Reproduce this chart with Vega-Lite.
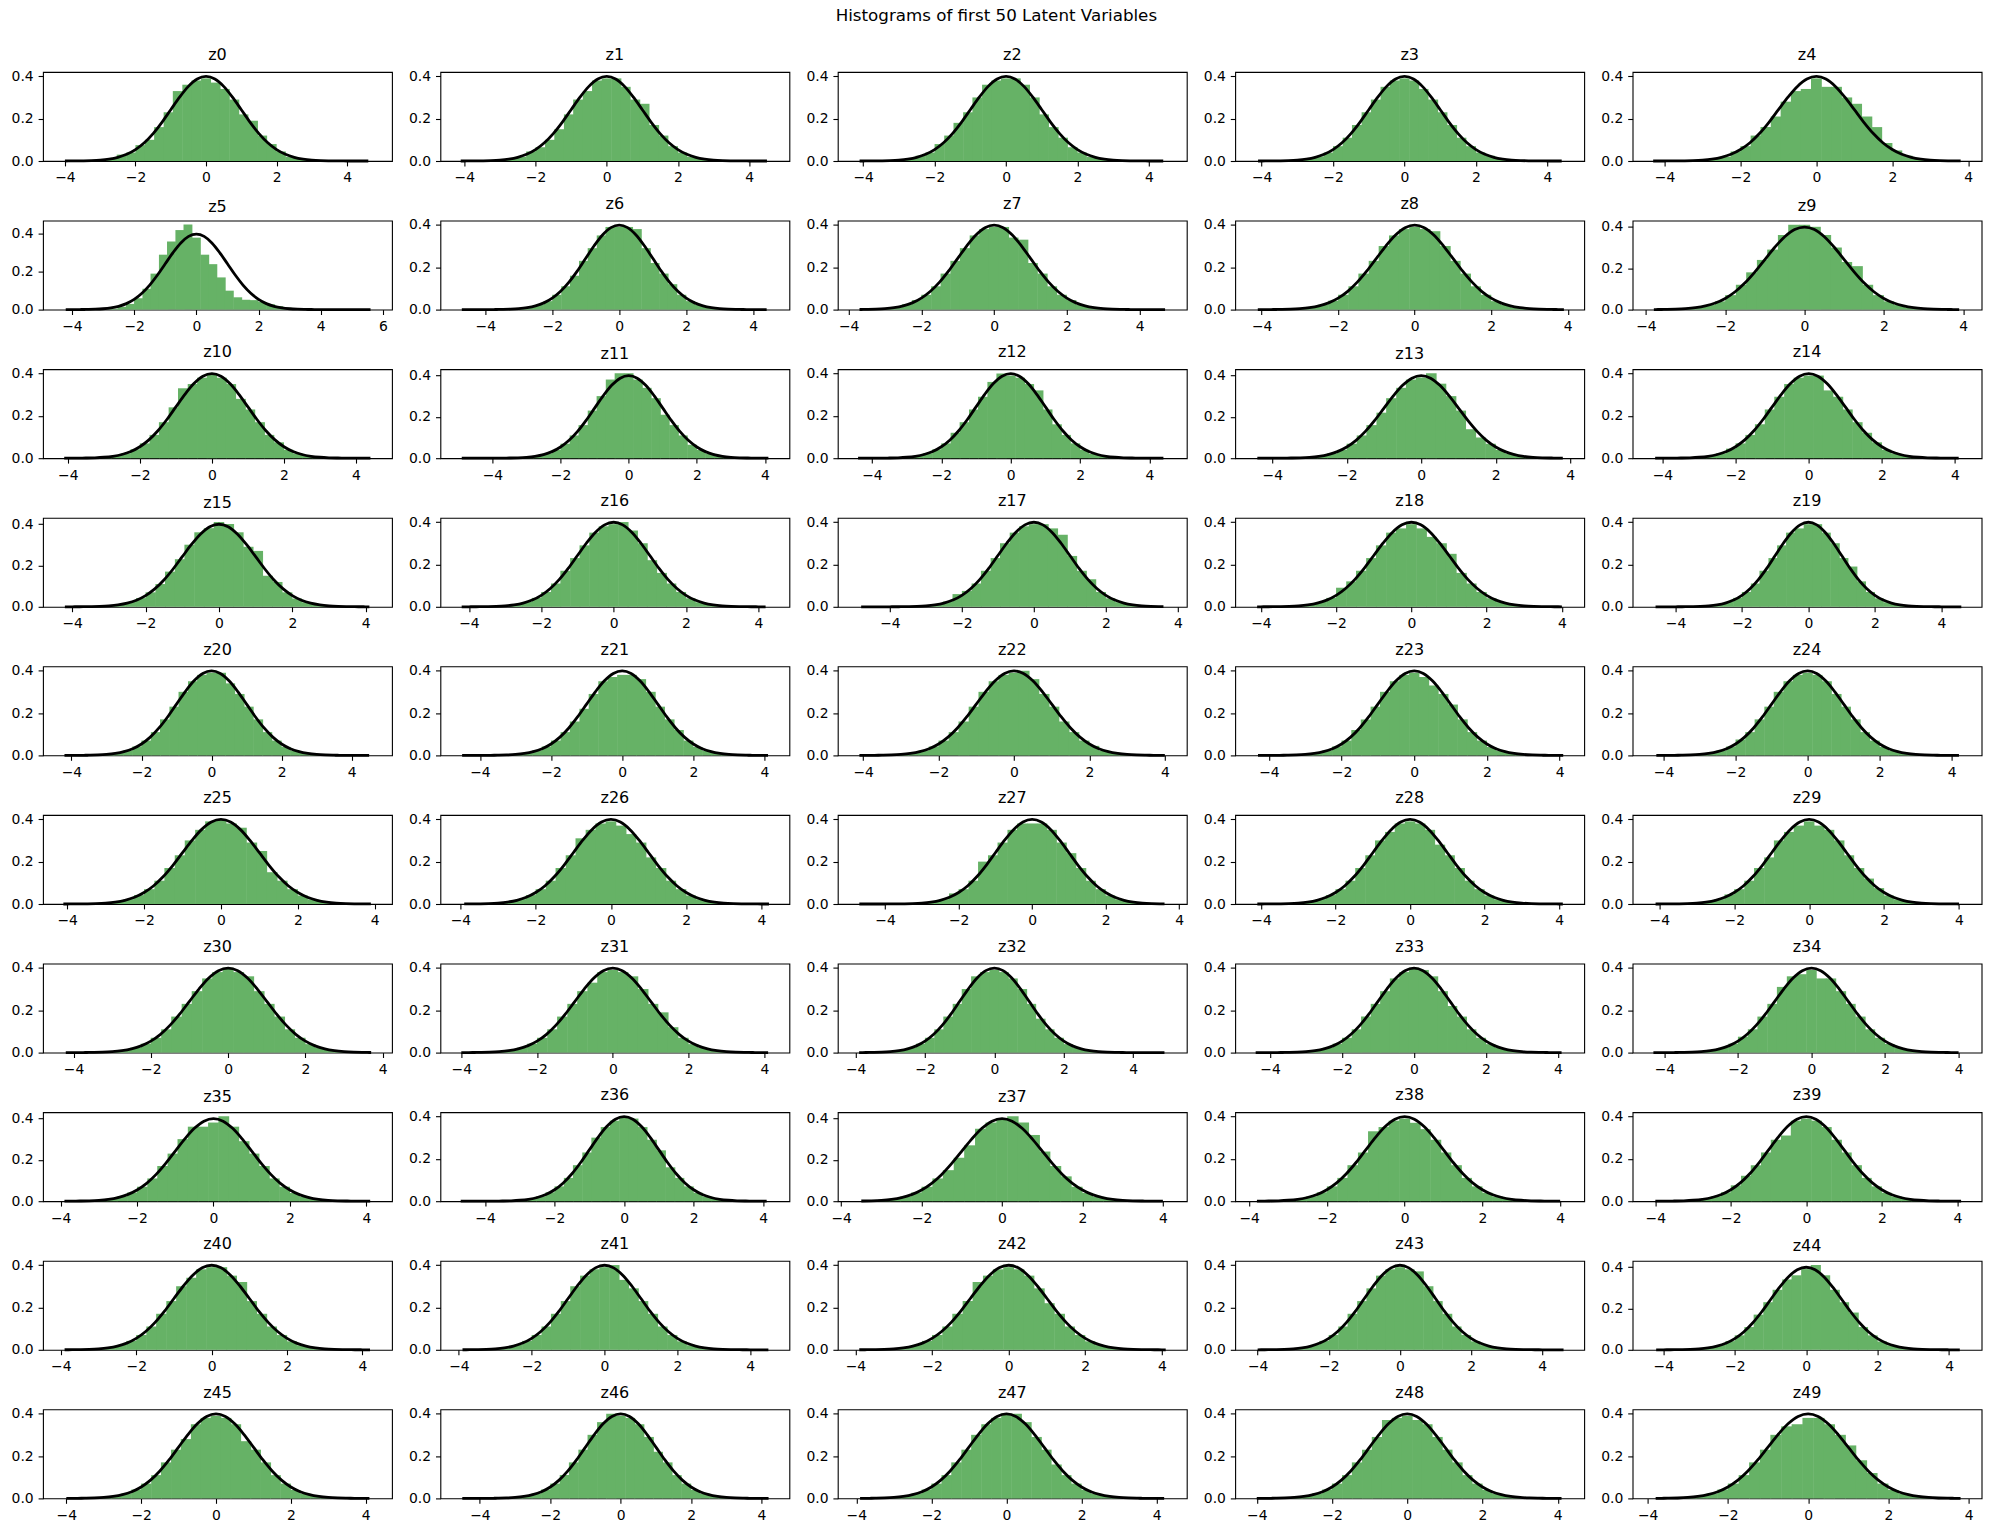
{"$schema":"https://vega.github.io/schema/vega-lite/v6.json","background":"white","padding":{"left":10,"top":7,"right":5,"bottom":5},"title":{"text":"Histograms of first 50 Latent Variables","anchor":"middle","fontSize":16.7,"offset":22},"columns":5,"bounds":"flush","spacing":{"row":59.6,"column":48.4},
"datasets":{
"z0":[{"x":-2.92,"y":0.006},{"x":-2.65,"y":0.012},{"x":-2.39,"y":0.03},{"x":-2.12,"y":0.04},{"x":-1.86,"y":0.075},{"x":-1.59,"y":0.1},{"x":-1.33,"y":0.16},{"x":-1.06,"y":0.23},{"x":-0.8,"y":0.33},{"x":-0.53,"y":0.36},{"x":-0.27,"y":0.38},{"x":0,"y":0.39},{"x":0.27,"y":0.37},{"x":0.53,"y":0.34},{"x":0.8,"y":0.29},{"x":1.06,"y":0.22},{"x":1.33,"y":0.19},{"x":1.59,"y":0.12},{"x":1.86,"y":0.08},{"x":2.12,"y":0.045},{"x":2.39,"y":0.02},{"x":2.65,"y":0.01},{"x":2.92,"y":0.005}],
"z1":[{"x":-2.92,"y":0.005},{"x":-2.65,"y":0.01},{"x":-2.39,"y":0.02},{"x":-2.12,"y":0.045},{"x":-1.86,"y":0.065},{"x":-1.59,"y":0.1},{"x":-1.33,"y":0.15},{"x":-1.06,"y":0.22},{"x":-0.8,"y":0.29},{"x":-0.53,"y":0.33},{"x":-0.27,"y":0.38},{"x":0,"y":0.39},{"x":0.27,"y":0.39},{"x":0.53,"y":0.35},{"x":0.8,"y":0.29},{"x":1.06,"y":0.27},{"x":1.33,"y":0.17},{"x":1.59,"y":0.12},{"x":1.86,"y":0.07},{"x":2.12,"y":0.04},{"x":2.39,"y":0.02},{"x":2.65,"y":0.01},{"x":2.92,"y":0.005}],
"z2":[{"x":-2.92,"y":0.005},{"x":-2.65,"y":0.012},{"x":-2.39,"y":0.025},{"x":-2.12,"y":0.04},{"x":-1.86,"y":0.08},{"x":-1.59,"y":0.12},{"x":-1.33,"y":0.18},{"x":-1.06,"y":0.23},{"x":-0.8,"y":0.3},{"x":-0.53,"y":0.36},{"x":-0.27,"y":0.38},{"x":0,"y":0.39},{"x":0.27,"y":0.39},{"x":0.53,"y":0.36},{"x":0.8,"y":0.3},{"x":1.06,"y":0.22},{"x":1.33,"y":0.16},{"x":1.59,"y":0.11},{"x":1.86,"y":0.065},{"x":2.12,"y":0.04},{"x":2.39,"y":0.02},{"x":2.65,"y":0.01},{"x":2.92,"y":0.005}],
"z3":[{"x":-2.92,"y":0.006},{"x":-2.65,"y":0.01},{"x":-2.39,"y":0.022},{"x":-2.12,"y":0.04},{"x":-1.86,"y":0.07},{"x":-1.59,"y":0.11},{"x":-1.33,"y":0.17},{"x":-1.06,"y":0.23},{"x":-0.8,"y":0.29},{"x":-0.53,"y":0.35},{"x":-0.27,"y":0.38},{"x":0,"y":0.39},{"x":0.27,"y":0.38},{"x":0.53,"y":0.34},{"x":0.8,"y":0.29},{"x":1.06,"y":0.23},{"x":1.33,"y":0.17},{"x":1.59,"y":0.11},{"x":1.86,"y":0.07},{"x":2.12,"y":0.04},{"x":2.39,"y":0.025},{"x":2.65,"y":0.012},{"x":2.92,"y":0.005}],
"z4":[{"x":-2.92,"y":0.006},{"x":-2.65,"y":0.012},{"x":-2.39,"y":0.02},{"x":-2.12,"y":0.045},{"x":-1.86,"y":0.07},{"x":-1.59,"y":0.12},{"x":-1.33,"y":0.16},{"x":-1.06,"y":0.21},{"x":-0.8,"y":0.28},{"x":-0.53,"y":0.33},{"x":-0.27,"y":0.34},{"x":0,"y":0.39},{"x":0.27,"y":0.35},{"x":0.53,"y":0.35},{"x":0.8,"y":0.3},{"x":1.06,"y":0.27},{"x":1.33,"y":0.21},{"x":1.59,"y":0.16},{"x":1.86,"y":0.085},{"x":2.12,"y":0.05},{"x":2.39,"y":0.025},{"x":2.65,"y":0.012},{"x":2.92,"y":0.006}],
"z5":[{"x":-2.92,"y":0.002},{"x":-2.65,"y":0.005},{"x":-2.39,"y":0.015},{"x":-2.12,"y":0.03},{"x":-1.86,"y":0.06},{"x":-1.59,"y":0.11},{"x":-1.33,"y":0.19},{"x":-1.06,"y":0.29},{"x":-0.8,"y":0.36},{"x":-0.53,"y":0.42},{"x":-0.27,"y":0.45},{"x":0,"y":0.38},{"x":0.27,"y":0.29},{"x":0.53,"y":0.24},{"x":0.8,"y":0.17},{"x":1.06,"y":0.1},{"x":1.33,"y":0.065},{"x":1.59,"y":0.052},{"x":1.86,"y":0.05},{"x":2.12,"y":0.04},{"x":2.39,"y":0.028},{"x":2.65,"y":0.018},{"x":2.92,"y":0.01},{"x":3.18,"y":0.007},{"x":3.45,"y":0.004}],
"z6":[{"x":-2.92,"y":0.006},{"x":-2.65,"y":0.012},{"x":-2.39,"y":0.022},{"x":-2.12,"y":0.04},{"x":-1.86,"y":0.07},{"x":-1.59,"y":0.11},{"x":-1.33,"y":0.16},{"x":-1.06,"y":0.23},{"x":-0.8,"y":0.29},{"x":-0.53,"y":0.35},{"x":-0.27,"y":0.39},{"x":0,"y":0.39},{"x":0.27,"y":0.39},{"x":0.53,"y":0.38},{"x":0.8,"y":0.29},{"x":1.06,"y":0.22},{"x":1.33,"y":0.17},{"x":1.59,"y":0.12},{"x":1.86,"y":0.07},{"x":2.12,"y":0.04},{"x":2.39,"y":0.022},{"x":2.65,"y":0.012},{"x":2.92,"y":0.005}],
"z7":[{"x":-2.92,"y":0.005},{"x":-2.65,"y":0.012},{"x":-2.39,"y":0.025},{"x":-2.12,"y":0.045},{"x":-1.86,"y":0.07},{"x":-1.59,"y":0.11},{"x":-1.33,"y":0.17},{"x":-1.06,"y":0.23},{"x":-0.8,"y":0.29},{"x":-0.53,"y":0.35},{"x":-0.27,"y":0.38},{"x":0,"y":0.39},{"x":0.27,"y":0.39},{"x":0.53,"y":0.34},{"x":0.8,"y":0.33},{"x":1.06,"y":0.22},{"x":1.33,"y":0.17},{"x":1.59,"y":0.11},{"x":1.86,"y":0.07},{"x":2.12,"y":0.045},{"x":2.39,"y":0.022},{"x":2.65,"y":0.012},{"x":2.92,"y":0.006}],
"z8":[{"x":-2.92,"y":0.006},{"x":-2.65,"y":0.012},{"x":-2.39,"y":0.023},{"x":-2.12,"y":0.042},{"x":-1.86,"y":0.07},{"x":-1.59,"y":0.11},{"x":-1.33,"y":0.17},{"x":-1.06,"y":0.23},{"x":-0.8,"y":0.3},{"x":-0.53,"y":0.35},{"x":-0.27,"y":0.38},{"x":0,"y":0.39},{"x":0.27,"y":0.38},{"x":0.53,"y":0.37},{"x":0.8,"y":0.3},{"x":1.06,"y":0.23},{"x":1.33,"y":0.17},{"x":1.59,"y":0.11},{"x":1.86,"y":0.07},{"x":2.12,"y":0.04},{"x":2.39,"y":0.022},{"x":2.65,"y":0.01},{"x":2.92,"y":0.005}],
"z9":[{"x":-2.92,"y":0.005},{"x":-2.65,"y":0.012},{"x":-2.39,"y":0.022},{"x":-2.12,"y":0.04},{"x":-1.86,"y":0.07},{"x":-1.59,"y":0.12},{"x":-1.33,"y":0.18},{"x":-1.06,"y":0.24},{"x":-0.8,"y":0.29},{"x":-0.53,"y":0.36},{"x":-0.27,"y":0.41},{"x":0,"y":0.41},{"x":0.27,"y":0.4},{"x":0.53,"y":0.36},{"x":0.8,"y":0.3},{"x":1.06,"y":0.23},{"x":1.33,"y":0.21},{"x":1.59,"y":0.12},{"x":1.86,"y":0.07},{"x":2.12,"y":0.04},{"x":2.39,"y":0.022},{"x":2.65,"y":0.01},{"x":2.92,"y":0.005}],
"z10":[{"x":-2.92,"y":0.006},{"x":-2.65,"y":0.012},{"x":-2.39,"y":0.023},{"x":-2.12,"y":0.042},{"x":-1.86,"y":0.07},{"x":-1.59,"y":0.11},{"x":-1.33,"y":0.17},{"x":-1.06,"y":0.24},{"x":-0.8,"y":0.33},{"x":-0.53,"y":0.35},{"x":-0.27,"y":0.38},{"x":0,"y":0.4},{"x":0.27,"y":0.38},{"x":0.53,"y":0.35},{"x":0.8,"y":0.28},{"x":1.06,"y":0.23},{"x":1.33,"y":0.17},{"x":1.59,"y":0.11},{"x":1.86,"y":0.075},{"x":2.12,"y":0.04},{"x":2.39,"y":0.022},{"x":2.65,"y":0.012},{"x":2.92,"y":0.005}],
"z11":[{"x":-2.92,"y":0.006},{"x":-2.65,"y":0.012},{"x":-2.39,"y":0.022},{"x":-2.12,"y":0.04},{"x":-1.86,"y":0.07},{"x":-1.59,"y":0.11},{"x":-1.33,"y":0.16},{"x":-1.06,"y":0.23},{"x":-0.8,"y":0.3},{"x":-0.53,"y":0.38},{"x":-0.27,"y":0.41},{"x":0,"y":0.41},{"x":0.27,"y":0.38},{"x":0.53,"y":0.34},{"x":0.8,"y":0.29},{"x":1.06,"y":0.21},{"x":1.33,"y":0.16},{"x":1.59,"y":0.11},{"x":1.86,"y":0.065},{"x":2.12,"y":0.04},{"x":2.39,"y":0.022},{"x":2.65,"y":0.01},{"x":2.92,"y":0.005}],
"z12":[{"x":-2.92,"y":0.006},{"x":-2.65,"y":0.012},{"x":-2.39,"y":0.023},{"x":-2.12,"y":0.042},{"x":-1.86,"y":0.07},{"x":-1.59,"y":0.12},{"x":-1.33,"y":0.17},{"x":-1.06,"y":0.23},{"x":-0.8,"y":0.29},{"x":-0.53,"y":0.36},{"x":-0.27,"y":0.4},{"x":0,"y":0.39},{"x":0.27,"y":0.38},{"x":0.53,"y":0.35},{"x":0.8,"y":0.32},{"x":1.06,"y":0.23},{"x":1.33,"y":0.16},{"x":1.59,"y":0.11},{"x":1.86,"y":0.07},{"x":2.12,"y":0.04},{"x":2.39,"y":0.02},{"x":2.65,"y":0.01},{"x":2.92,"y":0.005}],
"z13":[{"x":-2.92,"y":0.005},{"x":-2.65,"y":0.012},{"x":-2.39,"y":0.023},{"x":-2.12,"y":0.04},{"x":-1.86,"y":0.07},{"x":-1.59,"y":0.11},{"x":-1.33,"y":0.16},{"x":-1.06,"y":0.22},{"x":-0.8,"y":0.29},{"x":-0.53,"y":0.34},{"x":-0.27,"y":0.38},{"x":0,"y":0.39},{"x":0.27,"y":0.41},{"x":0.53,"y":0.36},{"x":0.8,"y":0.3},{"x":1.06,"y":0.23},{"x":1.33,"y":0.14},{"x":1.59,"y":0.1},{"x":1.86,"y":0.07},{"x":2.12,"y":0.04},{"x":2.39,"y":0.022},{"x":2.65,"y":0.01},{"x":2.92,"y":0.005}],
"z14":[{"x":-2.92,"y":0.006},{"x":-2.65,"y":0.012},{"x":-2.39,"y":0.023},{"x":-2.12,"y":0.045},{"x":-1.86,"y":0.07},{"x":-1.59,"y":0.11},{"x":-1.33,"y":0.16},{"x":-1.06,"y":0.23},{"x":-0.8,"y":0.29},{"x":-0.53,"y":0.35},{"x":-0.27,"y":0.38},{"x":0,"y":0.39},{"x":0.27,"y":0.39},{"x":0.53,"y":0.32},{"x":0.8,"y":0.29},{"x":1.06,"y":0.23},{"x":1.33,"y":0.17},{"x":1.59,"y":0.12},{"x":1.86,"y":0.075},{"x":2.12,"y":0.04},{"x":2.39,"y":0.022},{"x":2.65,"y":0.012},{"x":2.92,"y":0.005}],
"z15":[{"x":-2.92,"y":0.006},{"x":-2.65,"y":0.012},{"x":-2.39,"y":0.023},{"x":-2.12,"y":0.042},{"x":-1.86,"y":0.07},{"x":-1.59,"y":0.11},{"x":-1.33,"y":0.17},{"x":-1.06,"y":0.23},{"x":-0.8,"y":0.3},{"x":-0.53,"y":0.36},{"x":-0.27,"y":0.38},{"x":0,"y":0.41},{"x":0.27,"y":0.4},{"x":0.53,"y":0.36},{"x":0.8,"y":0.29},{"x":1.06,"y":0.27},{"x":1.33,"y":0.15},{"x":1.59,"y":0.12},{"x":1.86,"y":0.07},{"x":2.12,"y":0.04},{"x":2.39,"y":0.022},{"x":2.65,"y":0.012},{"x":2.92,"y":0.005}],
"z16":[{"x":-2.92,"y":0.006},{"x":-2.65,"y":0.012},{"x":-2.39,"y":0.023},{"x":-2.12,"y":0.042},{"x":-1.86,"y":0.07},{"x":-1.59,"y":0.11},{"x":-1.33,"y":0.17},{"x":-1.06,"y":0.23},{"x":-0.8,"y":0.29},{"x":-0.53,"y":0.35},{"x":-0.27,"y":0.38},{"x":0,"y":0.39},{"x":0.27,"y":0.4},{"x":0.53,"y":0.36},{"x":0.8,"y":0.3},{"x":1.06,"y":0.22},{"x":1.33,"y":0.16},{"x":1.59,"y":0.11},{"x":1.86,"y":0.07},{"x":2.12,"y":0.04},{"x":2.39,"y":0.022},{"x":2.65,"y":0.012},{"x":2.92,"y":0.005}],
"z17":[{"x":-2.92,"y":0.006},{"x":-2.65,"y":0.012},{"x":-2.39,"y":0.025},{"x":-2.12,"y":0.06},{"x":-1.86,"y":0.075},{"x":-1.59,"y":0.11},{"x":-1.33,"y":0.17},{"x":-1.06,"y":0.23},{"x":-0.8,"y":0.3},{"x":-0.53,"y":0.35},{"x":-0.27,"y":0.38},{"x":0,"y":0.39},{"x":0.27,"y":0.39},{"x":0.53,"y":0.37},{"x":0.8,"y":0.34},{"x":1.06,"y":0.24},{"x":1.33,"y":0.17},{"x":1.59,"y":0.13},{"x":1.86,"y":0.07},{"x":2.12,"y":0.04},{"x":2.39,"y":0.022},{"x":2.65,"y":0.012},{"x":2.92,"y":0.005}],
"z18":[{"x":-2.92,"y":0.005},{"x":-2.65,"y":0.012},{"x":-2.39,"y":0.023},{"x":-2.12,"y":0.042},{"x":-1.86,"y":0.09},{"x":-1.59,"y":0.12},{"x":-1.33,"y":0.17},{"x":-1.06,"y":0.23},{"x":-0.8,"y":0.29},{"x":-0.53,"y":0.35},{"x":-0.27,"y":0.37},{"x":0,"y":0.39},{"x":0.27,"y":0.37},{"x":0.53,"y":0.33},{"x":0.8,"y":0.3},{"x":1.06,"y":0.25},{"x":1.33,"y":0.16},{"x":1.59,"y":0.11},{"x":1.86,"y":0.07},{"x":2.12,"y":0.04},{"x":2.39,"y":0.022},{"x":2.65,"y":0.012},{"x":2.92,"y":0.005}],
"z19":[{"x":-2.92,"y":0.006},{"x":-2.65,"y":0.012},{"x":-2.39,"y":0.023},{"x":-2.12,"y":0.042},{"x":-1.86,"y":0.07},{"x":-1.59,"y":0.11},{"x":-1.33,"y":0.17},{"x":-1.06,"y":0.23},{"x":-0.8,"y":0.29},{"x":-0.53,"y":0.35},{"x":-0.27,"y":0.37},{"x":0,"y":0.39},{"x":0.27,"y":0.39},{"x":0.53,"y":0.35},{"x":0.8,"y":0.3},{"x":1.06,"y":0.23},{"x":1.33,"y":0.19},{"x":1.59,"y":0.12},{"x":1.86,"y":0.07},{"x":2.12,"y":0.04},{"x":2.39,"y":0.022},{"x":2.65,"y":0.012},{"x":2.92,"y":0.005}],
"z20":[{"x":-2.92,"y":0.006},{"x":-2.65,"y":0.012},{"x":-2.39,"y":0.023},{"x":-2.12,"y":0.042},{"x":-1.86,"y":0.07},{"x":-1.59,"y":0.11},{"x":-1.33,"y":0.17},{"x":-1.06,"y":0.23},{"x":-0.8,"y":0.3},{"x":-0.53,"y":0.35},{"x":-0.27,"y":0.38},{"x":0,"y":0.39},{"x":0.27,"y":0.39},{"x":0.53,"y":0.34},{"x":0.8,"y":0.29},{"x":1.06,"y":0.23},{"x":1.33,"y":0.17},{"x":1.59,"y":0.11},{"x":1.86,"y":0.07},{"x":2.12,"y":0.04},{"x":2.39,"y":0.022},{"x":2.65,"y":0.012},{"x":2.92,"y":0.005}],
"z21":[{"x":-2.92,"y":0.006},{"x":-2.65,"y":0.012},{"x":-2.39,"y":0.023},{"x":-2.12,"y":0.042},{"x":-1.86,"y":0.07},{"x":-1.59,"y":0.11},{"x":-1.33,"y":0.16},{"x":-1.06,"y":0.22},{"x":-0.8,"y":0.29},{"x":-0.53,"y":0.35},{"x":-0.27,"y":0.37},{"x":0,"y":0.38},{"x":0.27,"y":0.38},{"x":0.53,"y":0.36},{"x":0.8,"y":0.3},{"x":1.06,"y":0.23},{"x":1.33,"y":0.17},{"x":1.59,"y":0.12},{"x":1.86,"y":0.07},{"x":2.12,"y":0.04},{"x":2.39,"y":0.022},{"x":2.65,"y":0.012},{"x":2.92,"y":0.005}],
"z22":[{"x":-2.92,"y":0.006},{"x":-2.65,"y":0.012},{"x":-2.39,"y":0.023},{"x":-2.12,"y":0.042},{"x":-1.86,"y":0.07},{"x":-1.59,"y":0.11},{"x":-1.33,"y":0.16},{"x":-1.06,"y":0.23},{"x":-0.8,"y":0.3},{"x":-0.53,"y":0.35},{"x":-0.27,"y":0.38},{"x":0,"y":0.39},{"x":0.27,"y":0.4},{"x":0.53,"y":0.36},{"x":0.8,"y":0.29},{"x":1.06,"y":0.23},{"x":1.33,"y":0.16},{"x":1.59,"y":0.11},{"x":1.86,"y":0.07},{"x":2.12,"y":0.045},{"x":2.39,"y":0.022},{"x":2.65,"y":0.012},{"x":2.92,"y":0.005}],
"z23":[{"x":-2.92,"y":0.006},{"x":-2.65,"y":0.012},{"x":-2.39,"y":0.023},{"x":-2.12,"y":0.042},{"x":-1.86,"y":0.07},{"x":-1.59,"y":0.12},{"x":-1.33,"y":0.17},{"x":-1.06,"y":0.23},{"x":-0.8,"y":0.3},{"x":-0.53,"y":0.35},{"x":-0.27,"y":0.38},{"x":0,"y":0.39},{"x":0.27,"y":0.37},{"x":0.53,"y":0.33},{"x":0.8,"y":0.29},{"x":1.06,"y":0.24},{"x":1.33,"y":0.17},{"x":1.59,"y":0.11},{"x":1.86,"y":0.07},{"x":2.12,"y":0.04},{"x":2.39,"y":0.022},{"x":2.65,"y":0.012},{"x":2.92,"y":0.005}],
"z24":[{"x":-2.92,"y":0.006},{"x":-2.65,"y":0.012},{"x":-2.39,"y":0.023},{"x":-2.12,"y":0.042},{"x":-1.86,"y":0.075},{"x":-1.59,"y":0.11},{"x":-1.33,"y":0.17},{"x":-1.06,"y":0.23},{"x":-0.8,"y":0.3},{"x":-0.53,"y":0.35},{"x":-0.27,"y":0.38},{"x":0,"y":0.39},{"x":0.27,"y":0.38},{"x":0.53,"y":0.35},{"x":0.8,"y":0.29},{"x":1.06,"y":0.23},{"x":1.33,"y":0.17},{"x":1.59,"y":0.11},{"x":1.86,"y":0.07},{"x":2.12,"y":0.04},{"x":2.39,"y":0.022},{"x":2.65,"y":0.012},{"x":2.92,"y":0.005}],
"z25":[{"x":-2.92,"y":0.006},{"x":-2.65,"y":0.012},{"x":-2.39,"y":0.023},{"x":-2.12,"y":0.042},{"x":-1.86,"y":0.07},{"x":-1.59,"y":0.11},{"x":-1.33,"y":0.17},{"x":-1.06,"y":0.23},{"x":-0.8,"y":0.3},{"x":-0.53,"y":0.35},{"x":-0.27,"y":0.39},{"x":0,"y":0.4},{"x":0.27,"y":0.38},{"x":0.53,"y":0.36},{"x":0.8,"y":0.29},{"x":1.06,"y":0.25},{"x":1.33,"y":0.15},{"x":1.59,"y":0.11},{"x":1.86,"y":0.07},{"x":2.12,"y":0.04},{"x":2.39,"y":0.022},{"x":2.65,"y":0.012},{"x":2.92,"y":0.005}],
"z26":[{"x":-2.92,"y":0.006},{"x":-2.65,"y":0.012},{"x":-2.39,"y":0.023},{"x":-2.12,"y":0.042},{"x":-1.86,"y":0.07},{"x":-1.59,"y":0.11},{"x":-1.33,"y":0.17},{"x":-1.06,"y":0.23},{"x":-0.8,"y":0.31},{"x":-0.53,"y":0.35},{"x":-0.27,"y":0.38},{"x":0,"y":0.39},{"x":0.27,"y":0.37},{"x":0.53,"y":0.33},{"x":0.8,"y":0.29},{"x":1.06,"y":0.22},{"x":1.33,"y":0.17},{"x":1.59,"y":0.11},{"x":1.86,"y":0.07},{"x":2.12,"y":0.04},{"x":2.39,"y":0.022},{"x":2.65,"y":0.012},{"x":2.92,"y":0.005}],
"z27":[{"x":-2.92,"y":0.006},{"x":-2.65,"y":0.012},{"x":-2.39,"y":0.023},{"x":-2.12,"y":0.05},{"x":-1.86,"y":0.07},{"x":-1.59,"y":0.11},{"x":-1.33,"y":0.2},{"x":-1.06,"y":0.23},{"x":-0.8,"y":0.29},{"x":-0.53,"y":0.35},{"x":-0.27,"y":0.38},{"x":0,"y":0.38},{"x":0.27,"y":0.38},{"x":0.53,"y":0.35},{"x":0.8,"y":0.29},{"x":1.06,"y":0.24},{"x":1.33,"y":0.17},{"x":1.59,"y":0.11},{"x":1.86,"y":0.07},{"x":2.12,"y":0.04},{"x":2.39,"y":0.022},{"x":2.65,"y":0.012},{"x":2.92,"y":0.005}],
"z28":[{"x":-2.92,"y":0.006},{"x":-2.65,"y":0.012},{"x":-2.39,"y":0.023},{"x":-2.12,"y":0.042},{"x":-1.86,"y":0.07},{"x":-1.59,"y":0.11},{"x":-1.33,"y":0.17},{"x":-1.06,"y":0.23},{"x":-0.8,"y":0.3},{"x":-0.53,"y":0.34},{"x":-0.27,"y":0.38},{"x":0,"y":0.39},{"x":0.27,"y":0.38},{"x":0.53,"y":0.35},{"x":0.8,"y":0.28},{"x":1.06,"y":0.23},{"x":1.33,"y":0.17},{"x":1.59,"y":0.11},{"x":1.86,"y":0.07},{"x":2.12,"y":0.04},{"x":2.39,"y":0.022},{"x":2.65,"y":0.012},{"x":2.92,"y":0.005}],
"z29":[{"x":-2.92,"y":0.006},{"x":-2.65,"y":0.012},{"x":-2.39,"y":0.023},{"x":-2.12,"y":0.045},{"x":-1.86,"y":0.07},{"x":-1.59,"y":0.11},{"x":-1.33,"y":0.17},{"x":-1.06,"y":0.22},{"x":-0.8,"y":0.3},{"x":-0.53,"y":0.34},{"x":-0.27,"y":0.37},{"x":0,"y":0.39},{"x":0.27,"y":0.37},{"x":0.53,"y":0.35},{"x":0.8,"y":0.3},{"x":1.06,"y":0.23},{"x":1.33,"y":0.17},{"x":1.59,"y":0.12},{"x":1.86,"y":0.075},{"x":2.12,"y":0.04},{"x":2.39,"y":0.022},{"x":2.65,"y":0.012},{"x":2.92,"y":0.005}],
"z30":[{"x":-2.92,"y":0.006},{"x":-2.65,"y":0.012},{"x":-2.39,"y":0.023},{"x":-2.12,"y":0.042},{"x":-1.86,"y":0.07},{"x":-1.59,"y":0.11},{"x":-1.33,"y":0.17},{"x":-1.06,"y":0.23},{"x":-0.8,"y":0.29},{"x":-0.53,"y":0.35},{"x":-0.27,"y":0.38},{"x":0,"y":0.4},{"x":0.27,"y":0.38},{"x":0.53,"y":0.36},{"x":0.8,"y":0.29},{"x":1.06,"y":0.23},{"x":1.33,"y":0.17},{"x":1.59,"y":0.11},{"x":1.86,"y":0.07},{"x":2.12,"y":0.04},{"x":2.39,"y":0.022},{"x":2.65,"y":0.012},{"x":2.92,"y":0.005}],
"z31":[{"x":-2.92,"y":0.006},{"x":-2.65,"y":0.012},{"x":-2.39,"y":0.023},{"x":-2.12,"y":0.042},{"x":-1.86,"y":0.07},{"x":-1.59,"y":0.11},{"x":-1.33,"y":0.17},{"x":-1.06,"y":0.23},{"x":-0.8,"y":0.29},{"x":-0.53,"y":0.33},{"x":-0.27,"y":0.38},{"x":0,"y":0.39},{"x":0.27,"y":0.38},{"x":0.53,"y":0.36},{"x":0.8,"y":0.3},{"x":1.06,"y":0.23},{"x":1.33,"y":0.19},{"x":1.59,"y":0.12},{"x":1.86,"y":0.07},{"x":2.12,"y":0.04},{"x":2.39,"y":0.022},{"x":2.65,"y":0.012},{"x":2.92,"y":0.005}],
"z32":[{"x":-2.92,"y":0.006},{"x":-2.65,"y":0.012},{"x":-2.39,"y":0.023},{"x":-2.12,"y":0.042},{"x":-1.86,"y":0.07},{"x":-1.59,"y":0.11},{"x":-1.33,"y":0.17},{"x":-1.06,"y":0.23},{"x":-0.8,"y":0.3},{"x":-0.53,"y":0.36},{"x":-0.27,"y":0.38},{"x":0,"y":0.39},{"x":0.27,"y":0.38},{"x":0.53,"y":0.35},{"x":0.8,"y":0.3},{"x":1.06,"y":0.23},{"x":1.33,"y":0.16},{"x":1.59,"y":0.11},{"x":1.86,"y":0.07},{"x":2.12,"y":0.04},{"x":2.39,"y":0.022},{"x":2.65,"y":0.012},{"x":2.92,"y":0.005}],
"z33":[{"x":-2.92,"y":0.006},{"x":-2.65,"y":0.012},{"x":-2.39,"y":0.023},{"x":-2.12,"y":0.042},{"x":-1.86,"y":0.07},{"x":-1.59,"y":0.11},{"x":-1.33,"y":0.17},{"x":-1.06,"y":0.23},{"x":-0.8,"y":0.29},{"x":-0.53,"y":0.35},{"x":-0.27,"y":0.38},{"x":0,"y":0.4},{"x":0.27,"y":0.39},{"x":0.53,"y":0.36},{"x":0.8,"y":0.29},{"x":1.06,"y":0.22},{"x":1.33,"y":0.17},{"x":1.59,"y":0.11},{"x":1.86,"y":0.07},{"x":2.12,"y":0.04},{"x":2.39,"y":0.022},{"x":2.65,"y":0.012},{"x":2.92,"y":0.005}],
"z34":[{"x":-2.92,"y":0.006},{"x":-2.65,"y":0.012},{"x":-2.39,"y":0.023},{"x":-2.12,"y":0.042},{"x":-1.86,"y":0.075},{"x":-1.59,"y":0.11},{"x":-1.33,"y":0.17},{"x":-1.06,"y":0.23},{"x":-0.8,"y":0.31},{"x":-0.53,"y":0.36},{"x":-0.27,"y":0.37},{"x":0,"y":0.39},{"x":0.27,"y":0.35},{"x":0.53,"y":0.35},{"x":0.8,"y":0.29},{"x":1.06,"y":0.23},{"x":1.33,"y":0.17},{"x":1.59,"y":0.11},{"x":1.86,"y":0.07},{"x":2.12,"y":0.04},{"x":2.39,"y":0.022},{"x":2.65,"y":0.012},{"x":2.92,"y":0.005}],
"z35":[{"x":-2.92,"y":0.006},{"x":-2.65,"y":0.012},{"x":-2.39,"y":0.023},{"x":-2.12,"y":0.042},{"x":-1.86,"y":0.07},{"x":-1.59,"y":0.11},{"x":-1.33,"y":0.17},{"x":-1.06,"y":0.23},{"x":-0.8,"y":0.3},{"x":-0.53,"y":0.36},{"x":-0.27,"y":0.36},{"x":0,"y":0.38},{"x":0.27,"y":0.41},{"x":0.53,"y":0.36},{"x":0.8,"y":0.29},{"x":1.06,"y":0.23},{"x":1.33,"y":0.17},{"x":1.59,"y":0.11},{"x":1.86,"y":0.07},{"x":2.12,"y":0.04},{"x":2.39,"y":0.022},{"x":2.65,"y":0.012},{"x":2.92,"y":0.005}],
"z36":[{"x":-2.92,"y":0.006},{"x":-2.65,"y":0.012},{"x":-2.39,"y":0.023},{"x":-2.12,"y":0.042},{"x":-1.86,"y":0.07},{"x":-1.59,"y":0.11},{"x":-1.33,"y":0.17},{"x":-1.06,"y":0.23},{"x":-0.8,"y":0.3},{"x":-0.53,"y":0.35},{"x":-0.27,"y":0.38},{"x":0,"y":0.4},{"x":0.27,"y":0.39},{"x":0.53,"y":0.35},{"x":0.8,"y":0.29},{"x":1.06,"y":0.24},{"x":1.33,"y":0.16},{"x":1.59,"y":0.11},{"x":1.86,"y":0.07},{"x":2.12,"y":0.04},{"x":2.39,"y":0.022},{"x":2.65,"y":0.012},{"x":2.92,"y":0.005}],
"z37":[{"x":-2.92,"y":0.006},{"x":-2.65,"y":0.012},{"x":-2.39,"y":0.023},{"x":-2.12,"y":0.042},{"x":-1.86,"y":0.07},{"x":-1.59,"y":0.11},{"x":-1.33,"y":0.15},{"x":-1.06,"y":0.21},{"x":-0.8,"y":0.27},{"x":-0.53,"y":0.35},{"x":-0.27,"y":0.38},{"x":0,"y":0.4},{"x":0.27,"y":0.41},{"x":0.53,"y":0.38},{"x":0.8,"y":0.32},{"x":1.06,"y":0.24},{"x":1.33,"y":0.17},{"x":1.59,"y":0.12},{"x":1.86,"y":0.07},{"x":2.12,"y":0.04},{"x":2.39,"y":0.022},{"x":2.65,"y":0.012},{"x":2.92,"y":0.005}],
"z38":[{"x":-2.92,"y":0.006},{"x":-2.65,"y":0.012},{"x":-2.39,"y":0.023},{"x":-2.12,"y":0.042},{"x":-1.86,"y":0.07},{"x":-1.59,"y":0.11},{"x":-1.33,"y":0.17},{"x":-1.06,"y":0.23},{"x":-0.8,"y":0.33},{"x":-0.53,"y":0.35},{"x":-0.27,"y":0.38},{"x":0,"y":0.39},{"x":0.27,"y":0.37},{"x":0.53,"y":0.34},{"x":0.8,"y":0.29},{"x":1.06,"y":0.23},{"x":1.33,"y":0.17},{"x":1.59,"y":0.11},{"x":1.86,"y":0.07},{"x":2.12,"y":0.04},{"x":2.39,"y":0.022},{"x":2.65,"y":0.012},{"x":2.92,"y":0.005}],
"z39":[{"x":-2.92,"y":0.006},{"x":-2.65,"y":0.012},{"x":-2.39,"y":0.023},{"x":-2.12,"y":0.042},{"x":-1.86,"y":0.075},{"x":-1.59,"y":0.12},{"x":-1.33,"y":0.17},{"x":-1.06,"y":0.23},{"x":-0.8,"y":0.29},{"x":-0.53,"y":0.31},{"x":-0.27,"y":0.38},{"x":0,"y":0.39},{"x":0.27,"y":0.38},{"x":0.53,"y":0.35},{"x":0.8,"y":0.29},{"x":1.06,"y":0.23},{"x":1.33,"y":0.17},{"x":1.59,"y":0.11},{"x":1.86,"y":0.07},{"x":2.12,"y":0.04},{"x":2.39,"y":0.022},{"x":2.65,"y":0.012},{"x":2.92,"y":0.005}],
"z40":[{"x":-2.92,"y":0.006},{"x":-2.65,"y":0.012},{"x":-2.39,"y":0.023},{"x":-2.12,"y":0.042},{"x":-1.86,"y":0.07},{"x":-1.59,"y":0.11},{"x":-1.33,"y":0.17},{"x":-1.06,"y":0.23},{"x":-0.8,"y":0.3},{"x":-0.53,"y":0.34},{"x":-0.27,"y":0.38},{"x":0,"y":0.39},{"x":0.27,"y":0.39},{"x":0.53,"y":0.35},{"x":0.8,"y":0.32},{"x":1.06,"y":0.23},{"x":1.33,"y":0.17},{"x":1.59,"y":0.11},{"x":1.86,"y":0.07},{"x":2.12,"y":0.04},{"x":2.39,"y":0.022},{"x":2.65,"y":0.012},{"x":2.92,"y":0.005}],
"z41":[{"x":-2.92,"y":0.006},{"x":-2.65,"y":0.012},{"x":-2.39,"y":0.023},{"x":-2.12,"y":0.042},{"x":-1.86,"y":0.07},{"x":-1.59,"y":0.11},{"x":-1.33,"y":0.17},{"x":-1.06,"y":0.23},{"x":-0.8,"y":0.3},{"x":-0.53,"y":0.35},{"x":-0.27,"y":0.38},{"x":0,"y":0.39},{"x":0.27,"y":0.4},{"x":0.53,"y":0.33},{"x":0.8,"y":0.29},{"x":1.06,"y":0.23},{"x":1.33,"y":0.17},{"x":1.59,"y":0.11},{"x":1.86,"y":0.07},{"x":2.12,"y":0.04},{"x":2.39,"y":0.022},{"x":2.65,"y":0.012},{"x":2.92,"y":0.005}],
"z42":[{"x":-2.92,"y":0.006},{"x":-2.65,"y":0.012},{"x":-2.39,"y":0.023},{"x":-2.12,"y":0.042},{"x":-1.86,"y":0.07},{"x":-1.59,"y":0.11},{"x":-1.33,"y":0.17},{"x":-1.06,"y":0.23},{"x":-0.8,"y":0.32},{"x":-0.53,"y":0.35},{"x":-0.27,"y":0.38},{"x":0,"y":0.39},{"x":0.27,"y":0.38},{"x":0.53,"y":0.35},{"x":0.8,"y":0.29},{"x":1.06,"y":0.22},{"x":1.33,"y":0.17},{"x":1.59,"y":0.11},{"x":1.86,"y":0.07},{"x":2.12,"y":0.04},{"x":2.39,"y":0.022},{"x":2.65,"y":0.012},{"x":2.92,"y":0.005}],
"z43":[{"x":-2.92,"y":0.006},{"x":-2.65,"y":0.012},{"x":-2.39,"y":0.023},{"x":-2.12,"y":0.042},{"x":-1.86,"y":0.07},{"x":-1.59,"y":0.11},{"x":-1.33,"y":0.17},{"x":-1.06,"y":0.23},{"x":-0.8,"y":0.29},{"x":-0.53,"y":0.35},{"x":-0.27,"y":0.38},{"x":0,"y":0.39},{"x":0.27,"y":0.38},{"x":0.53,"y":0.37},{"x":0.8,"y":0.3},{"x":1.06,"y":0.23},{"x":1.33,"y":0.17},{"x":1.59,"y":0.11},{"x":1.86,"y":0.07},{"x":2.12,"y":0.04},{"x":2.39,"y":0.022},{"x":2.65,"y":0.012},{"x":2.92,"y":0.005}],
"z44":[{"x":-2.92,"y":0.006},{"x":-2.65,"y":0.012},{"x":-2.39,"y":0.023},{"x":-2.12,"y":0.042},{"x":-1.86,"y":0.07},{"x":-1.59,"y":0.11},{"x":-1.33,"y":0.17},{"x":-1.06,"y":0.23},{"x":-0.8,"y":0.29},{"x":-0.53,"y":0.34},{"x":-0.27,"y":0.36},{"x":0,"y":0.39},{"x":0.27,"y":0.41},{"x":0.53,"y":0.36},{"x":0.8,"y":0.29},{"x":1.06,"y":0.23},{"x":1.33,"y":0.18},{"x":1.59,"y":0.11},{"x":1.86,"y":0.07},{"x":2.12,"y":0.04},{"x":2.39,"y":0.022},{"x":2.65,"y":0.012},{"x":2.92,"y":0.005}],
"z45":[{"x":-2.92,"y":0.006},{"x":-2.65,"y":0.012},{"x":-2.39,"y":0.023},{"x":-2.12,"y":0.042},{"x":-1.86,"y":0.07},{"x":-1.59,"y":0.11},{"x":-1.33,"y":0.17},{"x":-1.06,"y":0.23},{"x":-0.8,"y":0.28},{"x":-0.53,"y":0.35},{"x":-0.27,"y":0.38},{"x":0,"y":0.39},{"x":0.27,"y":0.38},{"x":0.53,"y":0.35},{"x":0.8,"y":0.27},{"x":1.06,"y":0.23},{"x":1.33,"y":0.17},{"x":1.59,"y":0.11},{"x":1.86,"y":0.07},{"x":2.12,"y":0.04},{"x":2.39,"y":0.022},{"x":2.65,"y":0.012},{"x":2.92,"y":0.005}],
"z46":[{"x":-2.92,"y":0.006},{"x":-2.65,"y":0.012},{"x":-2.39,"y":0.023},{"x":-2.12,"y":0.042},{"x":-1.86,"y":0.07},{"x":-1.59,"y":0.11},{"x":-1.33,"y":0.17},{"x":-1.06,"y":0.23},{"x":-0.8,"y":0.3},{"x":-0.53,"y":0.36},{"x":-0.27,"y":0.4},{"x":0,"y":0.39},{"x":0.27,"y":0.38},{"x":0.53,"y":0.35},{"x":0.8,"y":0.29},{"x":1.06,"y":0.22},{"x":1.33,"y":0.17},{"x":1.59,"y":0.11},{"x":1.86,"y":0.07},{"x":2.12,"y":0.04},{"x":2.39,"y":0.022},{"x":2.65,"y":0.012},{"x":2.92,"y":0.005}],
"z47":[{"x":-2.92,"y":0.006},{"x":-2.65,"y":0.012},{"x":-2.39,"y":0.023},{"x":-2.12,"y":0.042},{"x":-1.86,"y":0.07},{"x":-1.59,"y":0.11},{"x":-1.33,"y":0.17},{"x":-1.06,"y":0.23},{"x":-0.8,"y":0.3},{"x":-0.53,"y":0.35},{"x":-0.27,"y":0.38},{"x":0,"y":0.4},{"x":0.27,"y":0.4},{"x":0.53,"y":0.36},{"x":0.8,"y":0.29},{"x":1.06,"y":0.23},{"x":1.33,"y":0.16},{"x":1.59,"y":0.11},{"x":1.86,"y":0.07},{"x":2.12,"y":0.04},{"x":2.39,"y":0.022},{"x":2.65,"y":0.012},{"x":2.92,"y":0.005}],
"z48":[{"x":-2.92,"y":0.006},{"x":-2.65,"y":0.012},{"x":-2.39,"y":0.023},{"x":-2.12,"y":0.042},{"x":-1.86,"y":0.07},{"x":-1.59,"y":0.11},{"x":-1.33,"y":0.17},{"x":-1.06,"y":0.23},{"x":-0.8,"y":0.29},{"x":-0.53,"y":0.37},{"x":-0.27,"y":0.38},{"x":0,"y":0.39},{"x":0.27,"y":0.37},{"x":0.53,"y":0.35},{"x":0.8,"y":0.29},{"x":1.06,"y":0.23},{"x":1.33,"y":0.17},{"x":1.59,"y":0.11},{"x":1.86,"y":0.07},{"x":2.12,"y":0.04},{"x":2.39,"y":0.022},{"x":2.65,"y":0.012},{"x":2.92,"y":0.005}],
"z49":[{"x":-2.92,"y":0.006},{"x":-2.65,"y":0.012},{"x":-2.39,"y":0.023},{"x":-2.12,"y":0.042},{"x":-1.86,"y":0.07},{"x":-1.59,"y":0.11},{"x":-1.33,"y":0.17},{"x":-1.06,"y":0.23},{"x":-0.8,"y":0.3},{"x":-0.53,"y":0.34},{"x":-0.27,"y":0.35},{"x":0,"y":0.38},{"x":0.27,"y":0.38},{"x":0.53,"y":0.35},{"x":0.8,"y":0.3},{"x":1.06,"y":0.25},{"x":1.33,"y":0.18},{"x":1.59,"y":0.12},{"x":1.86,"y":0.07},{"x":2.12,"y":0.04},{"x":2.39,"y":0.022},{"x":2.65,"y":0.012},{"x":2.92,"y":0.005}],
"c":[{"x":-5,"y":0},{"x":-4.9,"y":0},{"x":-4.8,"y":0},{"x":-4.7,"y":0},{"x":-4.6,"y":0},{"x":-4.5,"y":0},{"x":-4.4,"y":0},{"x":-4.3,"y":0},{"x":-4.2,"y":0.0001},{"x":-4.1,"y":0.0001},{"x":-4,"y":0.0001},{"x":-3.9,"y":0.0002},{"x":-3.8,"y":0.0003},{"x":-3.7,"y":0.0004},{"x":-3.6,"y":0.0006},{"x":-3.5,"y":0.0009},{"x":-3.25,"y":0.002},{"x":-3,"y":0.0044},{"x":-2.75,"y":0.0091},{"x":-2.5,"y":0.0175},{"x":-2.25,"y":0.0317},{"x":-2,"y":0.054},{"x":-1.75,"y":0.0863},{"x":-1.5,"y":0.1295},{"x":-1.25,"y":0.1826},{"x":-1,"y":0.242},{"x":-0.75,"y":0.3011},{"x":-0.5,"y":0.3521},{"x":-0.25,"y":0.3867},{"x":0,"y":0.3989},{"x":0.25,"y":0.3867},{"x":0.5,"y":0.3521},{"x":0.75,"y":0.3011},{"x":1,"y":0.242},{"x":1.25,"y":0.1826},{"x":1.5,"y":0.1295},{"x":1.75,"y":0.0863},{"x":2,"y":0.054},{"x":2.25,"y":0.0317},{"x":2.5,"y":0.0175},{"x":2.75,"y":0.0091},{"x":3,"y":0.0044},{"x":3.25,"y":0.002},{"x":3.5,"y":0.0009},{"x":3.6,"y":0.0006},{"x":3.7,"y":0.0004},{"x":3.8,"y":0.0003},{"x":3.9,"y":0.0002},{"x":4,"y":0.0001},{"x":4.1,"y":0.0001},{"x":4.2,"y":0.0001},{"x":4.3,"y":0},{"x":4.4,"y":0},{"x":4.5,"y":0},{"x":4.6,"y":0},{"x":4.7,"y":0},{"x":4.8,"y":0},{"x":4.9,"y":0},{"x":5,"y":0},{"x":5.1,"y":0},{"x":5.2,"y":0},{"x":5.3,"y":0},{"x":5.4,"y":0},{"x":5.5,"y":0},{"x":5.6,"y":0},{"x":5.7,"y":0}]
},
"concat":[
{"title":"z0","encoding":{"x":{"field":"x","type":"quantitative","title":null,"scale":{"domain":[-4.48,5.13]}},"y":{"field":"y","type":"quantitative","title":null,"scale":{"domain":[0,0.42]}}},"layer":[{"data":{"name":"z0"},"mark":{"type":"bar","width":10.0,"orient":"vertical"}},{"data":{"name":"c"},"transform":[{"filter":"datum.x>=-4.04&&datum.x<=4.69"}],"mark":"line"}]},
{"title":"z1","encoding":{"x":{"field":"x","type":"quantitative","title":null,"scale":{"domain":[-4.53,4.99]}},"y":{"field":"y","type":"quantitative","title":null,"scale":{"domain":[0,0.42]}}},"layer":[{"data":{"name":"z1"},"mark":{"type":"bar","width":10.1,"orient":"vertical"}},{"data":{"name":"c"},"transform":[{"filter":"datum.x>=-4.10&&datum.x<=4.56"}],"mark":"line"}]},
{"title":"z2","encoding":{"x":{"field":"x","type":"quantitative","title":null,"scale":{"domain":[-4.57,4.92]}},"y":{"field":"y","type":"quantitative","title":null,"scale":{"domain":[0,0.42]}}},"layer":[{"data":{"name":"z2"},"mark":{"type":"bar","width":10.1,"orient":"vertical"}},{"data":{"name":"c"},"transform":[{"filter":"datum.x>=-4.14&&datum.x<=4.49"}],"mark":"line"}]},
{"title":"z3","encoding":{"x":{"field":"x","type":"quantitative","title":null,"scale":{"domain":[-4.60,4.89]}},"y":{"field":"y","type":"quantitative","title":null,"scale":{"domain":[0,0.42]}}},"layer":[{"data":{"name":"z3"},"mark":{"type":"bar","width":10.1,"orient":"vertical"}},{"data":{"name":"c"},"transform":[{"filter":"datum.x>=-4.17&&datum.x<=4.46"}],"mark":"line"}]},
{"title":"z4","encoding":{"x":{"field":"x","type":"quantitative","title":null,"scale":{"domain":[-4.71,4.22]}},"y":{"field":"y","type":"quantitative","title":null,"scale":{"domain":[0,0.42]}}},"layer":[{"data":{"name":"z4"},"mark":{"type":"bar","width":10.8,"orient":"vertical"}},{"data":{"name":"c"},"transform":[{"filter":"datum.x>=-4.30&&datum.x<=3.81"}],"mark":"line"}]},
{"title":"z5","encoding":{"x":{"field":"x","type":"quantitative","title":null,"scale":{"domain":[-4.77,6.13]}},"y":{"field":"y","type":"quantitative","title":null,"scale":{"domain":[0,0.47]}}},"layer":[{"data":{"name":"z5"},"mark":{"type":"bar","width":8.9,"orient":"vertical"}},{"data":{"name":"c"},"transform":[{"filter":"datum.x>=-4.27&&datum.x<=5.63"}],"mark":"line"}]},
{"title":"z6","encoding":{"x":{"field":"x","type":"quantitative","title":null,"scale":{"domain":[-5.19,4.93]}},"y":{"field":"y","type":"quantitative","title":null,"scale":{"domain":[0,0.42]}}},"layer":[{"data":{"name":"z6"},"mark":{"type":"bar","width":9.5,"orient":"vertical"}},{"data":{"name":"c"},"transform":[{"filter":"datum.x>=-4.73&&datum.x<=4.47"}],"mark":"line"}]},
{"title":"z7","encoding":{"x":{"field":"x","type":"quantitative","title":null,"scale":{"domain":[-4.16,5.16]}},"y":{"field":"y","type":"quantitative","title":null,"scale":{"domain":[0,0.42]}}},"layer":[{"data":{"name":"z7"},"mark":{"type":"bar","width":10.3,"orient":"vertical"}},{"data":{"name":"c"},"transform":[{"filter":"datum.x>=-3.74&&datum.x<=4.74"}],"mark":"line"}]},
{"title":"z8","encoding":{"x":{"field":"x","type":"quantitative","title":null,"scale":{"domain":[-4.56,4.30]}},"y":{"field":"y","type":"quantitative","title":null,"scale":{"domain":[0,0.42]}}},"layer":[{"data":{"name":"z8"},"mark":{"type":"bar","width":10.8,"orient":"vertical"}},{"data":{"name":"c"},"transform":[{"filter":"datum.x>=-4.16&&datum.x<=3.90"}],"mark":"line"}]},
{"title":"z9","encoding":{"x":{"field":"x","type":"quantitative","title":null,"scale":{"domain":[-4.21,4.34]}},"y":{"field":"y","type":"quantitative","title":null,"scale":{"domain":[0,0.43]}}},"layer":[{"data":{"name":"z9"},"mark":{"type":"bar","width":11.2,"orient":"vertical"}},{"data":{"name":"c"},"transform":[{"filter":"datum.x>=-3.82&&datum.x<=3.95"}],"mark":"line"}]},
{"title":"z10","encoding":{"x":{"field":"x","type":"quantitative","title":null,"scale":{"domain":[-4.55,4.86]}},"y":{"field":"y","type":"quantitative","title":null,"scale":{"domain":[0,0.42]}}},"layer":[{"data":{"name":"z10"},"mark":{"type":"bar","width":10.2,"orient":"vertical"}},{"data":{"name":"c"},"transform":[{"filter":"datum.x>=-4.12&&datum.x<=4.43"}],"mark":"line"}]},
{"title":"z11","encoding":{"x":{"field":"x","type":"quantitative","title":null,"scale":{"domain":[-5.38,4.57]}},"y":{"field":"y","type":"quantitative","title":null,"scale":{"domain":[0,0.43]}}},"layer":[{"data":{"name":"z11"},"mark":{"type":"bar","width":9.7,"orient":"vertical"}},{"data":{"name":"c"},"transform":[{"filter":"datum.x>=-4.93&&datum.x<=4.12"}],"mark":"line"}]},
{"title":"z12","encoding":{"x":{"field":"x","type":"quantitative","title":null,"scale":{"domain":[-4.84,4.93]}},"y":{"field":"y","type":"quantitative","title":null,"scale":{"domain":[0,0.42]}}},"layer":[{"data":{"name":"z12"},"mark":{"type":"bar","width":9.9,"orient":"vertical"}},{"data":{"name":"c"},"transform":[{"filter":"datum.x>=-4.40&&datum.x<=4.49"}],"mark":"line"}]},
{"title":"z13","encoding":{"x":{"field":"x","type":"quantitative","title":null,"scale":{"domain":[-4.86,4.24]}},"y":{"field":"y","type":"quantitative","title":null,"scale":{"domain":[0,0.43]}}},"layer":[{"data":{"name":"z13"},"mark":{"type":"bar","width":10.6,"orient":"vertical"}},{"data":{"name":"c"},"transform":[{"filter":"datum.x>=-4.45&&datum.x<=3.83"}],"mark":"line"}]},
{"title":"z14","encoding":{"x":{"field":"x","type":"quantitative","title":null,"scale":{"domain":[-4.68,4.59]}},"y":{"field":"y","type":"quantitative","title":null,"scale":{"domain":[0,0.42]}}},"layer":[{"data":{"name":"z14"},"mark":{"type":"bar","width":10.4,"orient":"vertical"}},{"data":{"name":"c"},"transform":[{"filter":"datum.x>=-4.26&&datum.x<=4.17"}],"mark":"line"}]},
{"title":"z15","encoding":{"x":{"field":"x","type":"quantitative","title":null,"scale":{"domain":[-4.66,4.58]}},"y":{"field":"y","type":"quantitative","title":null,"scale":{"domain":[0,0.43]}}},"layer":[{"data":{"name":"z15"},"mark":{"type":"bar","width":10.4,"orient":"vertical"}},{"data":{"name":"c"},"transform":[{"filter":"datum.x>=-4.24&&datum.x<=4.16"}],"mark":"line"}]},
{"title":"z16","encoding":{"x":{"field":"x","type":"quantitative","title":null,"scale":{"domain":[-4.65,4.72]}},"y":{"field":"y","type":"quantitative","title":null,"scale":{"domain":[0,0.42]}}},"layer":[{"data":{"name":"z16"},"mark":{"type":"bar","width":10.3,"orient":"vertical"}},{"data":{"name":"c"},"transform":[{"filter":"datum.x>=-4.22&&datum.x<=4.29"}],"mark":"line"}]},
{"title":"z17","encoding":{"x":{"field":"x","type":"quantitative","title":null,"scale":{"domain":[-5.31,4.11]}},"y":{"field":"y","type":"quantitative","title":null,"scale":{"domain":[0,0.42]}}},"layer":[{"data":{"name":"z17"},"mark":{"type":"bar","width":10.2,"orient":"vertical"}},{"data":{"name":"c"},"transform":[{"filter":"datum.x>=-4.88&&datum.x<=3.68"}],"mark":"line"}]},
{"title":"z18","encoding":{"x":{"field":"x","type":"quantitative","title":null,"scale":{"domain":[-4.55,4.46]}},"y":{"field":"y","type":"quantitative","title":null,"scale":{"domain":[0,0.42]}}},"layer":[{"data":{"name":"z18"},"mark":{"type":"bar","width":10.7,"orient":"vertical"}},{"data":{"name":"c"},"transform":[{"filter":"datum.x>=-4.14&&datum.x<=4.05"}],"mark":"line"}]},
{"title":"z19","encoding":{"x":{"field":"x","type":"quantitative","title":null,"scale":{"domain":[-5.14,5.06]}},"y":{"field":"y","type":"quantitative","title":null,"scale":{"domain":[0,0.42]}}},"layer":[{"data":{"name":"z19"},"mark":{"type":"bar","width":9.5,"orient":"vertical"}},{"data":{"name":"c"},"transform":[{"filter":"datum.x>=-4.68&&datum.x<=4.60"}],"mark":"line"}]},
{"title":"z20","encoding":{"x":{"field":"x","type":"quantitative","title":null,"scale":{"domain":[-4.67,5.01]}},"y":{"field":"y","type":"quantitative","title":null,"scale":{"domain":[0,0.42]}}},"layer":[{"data":{"name":"z20"},"mark":{"type":"bar","width":10.0,"orient":"vertical"}},{"data":{"name":"c"},"transform":[{"filter":"datum.x>=-4.23&&datum.x<=4.57"}],"mark":"line"}]},
{"title":"z21","encoding":{"x":{"field":"x","type":"quantitative","title":null,"scale":{"domain":[-4.97,4.56]}},"y":{"field":"y","type":"quantitative","title":null,"scale":{"domain":[0,0.42]}}},"layer":[{"data":{"name":"z21"},"mark":{"type":"bar","width":10.1,"orient":"vertical"}},{"data":{"name":"c"},"transform":[{"filter":"datum.x>=-4.54&&datum.x<=4.13"}],"mark":"line"}]},
{"title":"z22","encoding":{"x":{"field":"x","type":"quantitative","title":null,"scale":{"domain":[-4.54,4.45]}},"y":{"field":"y","type":"quantitative","title":null,"scale":{"domain":[0,0.42]}}},"layer":[{"data":{"name":"z22"},"mark":{"type":"bar","width":10.7,"orient":"vertical"}},{"data":{"name":"c"},"transform":[{"filter":"datum.x>=-4.13&&datum.x<=4.04"}],"mark":"line"}]},
{"title":"z23","encoding":{"x":{"field":"x","type":"quantitative","title":null,"scale":{"domain":[-4.79,4.54]}},"y":{"field":"y","type":"quantitative","title":null,"scale":{"domain":[0,0.42]}}},"layer":[{"data":{"name":"z23"},"mark":{"type":"bar","width":10.3,"orient":"vertical"}},{"data":{"name":"c"},"transform":[{"filter":"datum.x>=-4.37&&datum.x<=4.12"}],"mark":"line"}]},
{"title":"z24","encoding":{"x":{"field":"x","type":"quantitative","title":null,"scale":{"domain":[-4.72,4.69]}},"y":{"field":"y","type":"quantitative","title":null,"scale":{"domain":[0,0.42]}}},"layer":[{"data":{"name":"z24"},"mark":{"type":"bar","width":10.2,"orient":"vertical"}},{"data":{"name":"c"},"transform":[{"filter":"datum.x>=-4.29&&datum.x<=4.26"}],"mark":"line"}]},
{"title":"z25","encoding":{"x":{"field":"x","type":"quantitative","title":null,"scale":{"domain":[-4.50,4.32]}},"y":{"field":"y","type":"quantitative","title":null,"scale":{"domain":[0,0.42]}}},"layer":[{"data":{"name":"z25"},"mark":{"type":"bar","width":10.9,"orient":"vertical"}},{"data":{"name":"c"},"transform":[{"filter":"datum.x>=-4.10&&datum.x<=3.92"}],"mark":"line"}]},
{"title":"z26","encoding":{"x":{"field":"x","type":"quantitative","title":null,"scale":{"domain":[-4.40,4.61]}},"y":{"field":"y","type":"quantitative","title":null,"scale":{"domain":[0,0.42]}}},"layer":[{"data":{"name":"z26"},"mark":{"type":"bar","width":10.7,"orient":"vertical"}},{"data":{"name":"c"},"transform":[{"filter":"datum.x>=-3.99&&datum.x<=4.20"}],"mark":"line"}]},
{"title":"z27","encoding":{"x":{"field":"x","type":"quantitative","title":null,"scale":{"domain":[-5.15,4.07]}},"y":{"field":"y","type":"quantitative","title":null,"scale":{"domain":[0,0.42]}}},"layer":[{"data":{"name":"z27"},"mark":{"type":"bar","width":10.4,"orient":"vertical"}},{"data":{"name":"c"},"transform":[{"filter":"datum.x>=-4.73&&datum.x<=3.65"}],"mark":"line"}]},
{"title":"z28","encoding":{"x":{"field":"x","type":"quantitative","title":null,"scale":{"domain":[-4.56,4.54]}},"y":{"field":"y","type":"quantitative","title":null,"scale":{"domain":[0,0.42]}}},"layer":[{"data":{"name":"z28"},"mark":{"type":"bar","width":10.6,"orient":"vertical"}},{"data":{"name":"c"},"transform":[{"filter":"datum.x>=-4.15&&datum.x<=4.13"}],"mark":"line"}]},
{"title":"z29","encoding":{"x":{"field":"x","type":"quantitative","title":null,"scale":{"domain":[-4.58,4.47]}},"y":{"field":"y","type":"quantitative","title":null,"scale":{"domain":[0,0.42]}}},"layer":[{"data":{"name":"z29"},"mark":{"type":"bar","width":10.6,"orient":"vertical"}},{"data":{"name":"c"},"transform":[{"filter":"datum.x>=-4.17&&datum.x<=4.06"}],"mark":"line"}]},
{"title":"z30","encoding":{"x":{"field":"x","type":"quantitative","title":null,"scale":{"domain":[-4.66,4.11]}},"y":{"field":"y","type":"quantitative","title":null,"scale":{"domain":[0,0.42]}}},"layer":[{"data":{"name":"z30"},"mark":{"type":"bar","width":11.0,"orient":"vertical"}},{"data":{"name":"c"},"transform":[{"filter":"datum.x>=-4.26&&datum.x<=3.71"}],"mark":"line"}]},
{"title":"z31","encoding":{"x":{"field":"x","type":"quantitative","title":null,"scale":{"domain":[-4.42,4.53]}},"y":{"field":"y","type":"quantitative","title":null,"scale":{"domain":[0,0.42]}}},"layer":[{"data":{"name":"z31"},"mark":{"type":"bar","width":10.7,"orient":"vertical"}},{"data":{"name":"c"},"transform":[{"filter":"datum.x>=-4.01&&datum.x<=4.12"}],"mark":"line"}]},
{"title":"z32","encoding":{"x":{"field":"x","type":"quantitative","title":null,"scale":{"domain":[-4.37,5.40]}},"y":{"field":"y","type":"quantitative","title":null,"scale":{"domain":[0,0.42]}}},"layer":[{"data":{"name":"z32"},"mark":{"type":"bar","width":9.9,"orient":"vertical"}},{"data":{"name":"c"},"transform":[{"filter":"datum.x>=-3.93&&datum.x<=4.96"}],"mark":"line"}]},
{"title":"z33","encoding":{"x":{"field":"x","type":"quantitative","title":null,"scale":{"domain":[-4.83,4.59]}},"y":{"field":"y","type":"quantitative","title":null,"scale":{"domain":[0,0.42]}}},"layer":[{"data":{"name":"z33"},"mark":{"type":"bar","width":10.2,"orient":"vertical"}},{"data":{"name":"c"},"transform":[{"filter":"datum.x>=-4.40&&datum.x<=4.16"}],"mark":"line"}]},
{"title":"z34","encoding":{"x":{"field":"x","type":"quantitative","title":null,"scale":{"domain":[-4.73,4.49]}},"y":{"field":"y","type":"quantitative","title":null,"scale":{"domain":[0,0.42]}}},"layer":[{"data":{"name":"z34"},"mark":{"type":"bar","width":10.4,"orient":"vertical"}},{"data":{"name":"c"},"transform":[{"filter":"datum.x>=-4.31&&datum.x<=4.07"}],"mark":"line"}]},
{"title":"z35","encoding":{"x":{"field":"x","type":"quantitative","title":null,"scale":{"domain":[-4.33,4.54]}},"y":{"field":"y","type":"quantitative","title":null,"scale":{"domain":[0,0.43]}}},"layer":[{"data":{"name":"z35"},"mark":{"type":"bar","width":10.8,"orient":"vertical"}},{"data":{"name":"c"},"transform":[{"filter":"datum.x>=-3.93&&datum.x<=4.14"}],"mark":"line"}]},
{"title":"z36","encoding":{"x":{"field":"x","type":"quantitative","title":null,"scale":{"domain":[-5.14,4.61]}},"y":{"field":"y","type":"quantitative","title":null,"scale":{"domain":[0,0.42]}}},"layer":[{"data":{"name":"z36"},"mark":{"type":"bar","width":9.9,"orient":"vertical"}},{"data":{"name":"c"},"transform":[{"filter":"datum.x>=-4.70&&datum.x<=4.17"}],"mark":"line"}]},
{"title":"z37","encoding":{"x":{"field":"x","type":"quantitative","title":null,"scale":{"domain":[-3.96,4.47]}},"y":{"field":"y","type":"quantitative","title":null,"scale":{"domain":[0,0.43]}}},"layer":[{"data":{"name":"z37"},"mark":{"type":"bar","width":11.4,"orient":"vertical"}},{"data":{"name":"c"},"transform":[{"filter":"datum.x>=-3.58&&datum.x<=4.09"}],"mark":"line"}]},
{"title":"z38","encoding":{"x":{"field":"x","type":"quantitative","title":null,"scale":{"domain":[-4.23,4.49]}},"y":{"field":"y","type":"quantitative","title":null,"scale":{"domain":[0,0.42]}}},"layer":[{"data":{"name":"z38"},"mark":{"type":"bar","width":11.0,"orient":"vertical"}},{"data":{"name":"c"},"transform":[{"filter":"datum.x>=-3.83&&datum.x<=4.09"}],"mark":"line"}]},
{"title":"z39","encoding":{"x":{"field":"x","type":"quantitative","title":null,"scale":{"domain":[-4.47,4.51]}},"y":{"field":"y","type":"quantitative","title":null,"scale":{"domain":[0,0.42]}}},"layer":[{"data":{"name":"z39"},"mark":{"type":"bar","width":10.7,"orient":"vertical"}},{"data":{"name":"c"},"transform":[{"filter":"datum.x>=-4.06&&datum.x<=4.10"}],"mark":"line"}]},
{"title":"z40","encoding":{"x":{"field":"x","type":"quantitative","title":null,"scale":{"domain":[-4.34,4.65]}},"y":{"field":"y","type":"quantitative","title":null,"scale":{"domain":[0,0.42]}}},"layer":[{"data":{"name":"z40"},"mark":{"type":"bar","width":10.7,"orient":"vertical"}},{"data":{"name":"c"},"transform":[{"filter":"datum.x>=-3.93&&datum.x<=4.24"}],"mark":"line"}]},
{"title":"z41","encoding":{"x":{"field":"x","type":"quantitative","title":null,"scale":{"domain":[-4.37,4.94]}},"y":{"field":"y","type":"quantitative","title":null,"scale":{"domain":[0,0.42]}}},"layer":[{"data":{"name":"z41"},"mark":{"type":"bar","width":10.3,"orient":"vertical"}},{"data":{"name":"c"},"transform":[{"filter":"datum.x>=-3.95&&datum.x<=4.52"}],"mark":"line"}]},
{"title":"z42","encoding":{"x":{"field":"x","type":"quantitative","title":null,"scale":{"domain":[-4.33,4.52]}},"y":{"field":"y","type":"quantitative","title":null,"scale":{"domain":[0,0.42]}}},"layer":[{"data":{"name":"z42"},"mark":{"type":"bar","width":10.8,"orient":"vertical"}},{"data":{"name":"c"},"transform":[{"filter":"datum.x>=-3.93&&datum.x<=4.12"}],"mark":"line"}]},
{"title":"z43","encoding":{"x":{"field":"x","type":"quantitative","title":null,"scale":{"domain":[-4.49,5.04]}},"y":{"field":"y","type":"quantitative","title":null,"scale":{"domain":[0,0.42]}}},"layer":[{"data":{"name":"z43"},"mark":{"type":"bar","width":10.1,"orient":"vertical"}},{"data":{"name":"c"},"transform":[{"filter":"datum.x>=-4.06&&datum.x<=4.61"}],"mark":"line"}]},
{"title":"z44","encoding":{"x":{"field":"x","type":"quantitative","title":null,"scale":{"domain":[-4.72,4.77]}},"y":{"field":"y","type":"quantitative","title":null,"scale":{"domain":[0,0.43]}}},"layer":[{"data":{"name":"z44"},"mark":{"type":"bar","width":10.1,"orient":"vertical"}},{"data":{"name":"c"},"transform":[{"filter":"datum.x>=-4.29&&datum.x<=4.34"}],"mark":"line"}]},
{"title":"z45","encoding":{"x":{"field":"x","type":"quantitative","title":null,"scale":{"domain":[-4.49,4.57]}},"y":{"field":"y","type":"quantitative","title":null,"scale":{"domain":[0,0.42]}}},"layer":[{"data":{"name":"z45"},"mark":{"type":"bar","width":10.6,"orient":"vertical"}},{"data":{"name":"c"},"transform":[{"filter":"datum.x>=-4.08&&datum.x<=4.16"}],"mark":"line"}]},
{"title":"z46","encoding":{"x":{"field":"x","type":"quantitative","title":null,"scale":{"domain":[-4.98,4.65]}},"y":{"field":"y","type":"quantitative","title":null,"scale":{"domain":[0,0.42]}}},"layer":[{"data":{"name":"z46"},"mark":{"type":"bar","width":10.0,"orient":"vertical"}},{"data":{"name":"c"},"transform":[{"filter":"datum.x>=-4.54&&datum.x<=4.21"}],"mark":"line"}]},
{"title":"z47","encoding":{"x":{"field":"x","type":"quantitative","title":null,"scale":{"domain":[-4.36,4.67]}},"y":{"field":"y","type":"quantitative","title":null,"scale":{"domain":[0,0.42]}}},"layer":[{"data":{"name":"z47"},"mark":{"type":"bar","width":10.6,"orient":"vertical"}},{"data":{"name":"c"},"transform":[{"filter":"datum.x>=-3.95&&datum.x<=4.26"}],"mark":"line"}]},
{"title":"z48","encoding":{"x":{"field":"x","type":"quantitative","title":null,"scale":{"domain":[-4.44,4.57]}},"y":{"field":"y","type":"quantitative","title":null,"scale":{"domain":[0,0.42]}}},"layer":[{"data":{"name":"z48"},"mark":{"type":"bar","width":10.7,"orient":"vertical"}},{"data":{"name":"c"},"transform":[{"filter":"datum.x>=-4.03&&datum.x<=4.16"}],"mark":"line"}]},
{"title":"z49","encoding":{"x":{"field":"x","type":"quantitative","title":null,"scale":{"domain":[-4.25,4.20]}},"y":{"field":"y","type":"quantitative","title":null,"scale":{"domain":[0,0.42]}}},"layer":[{"data":{"name":"z49"},"mark":{"type":"bar","width":11.3,"orient":"vertical"}},{"data":{"name":"c"},"transform":[{"filter":"datum.x>=-3.87&&datum.x<=3.82"}],"mark":"line"}]}
],
"config":{"font":"DejaVu Sans","view":{"continuousWidth":349,"continuousHeight":89,"stroke":"black","strokeWidth":1.1},"bar":{"color":"#66b266"},"line":{"color":"black","strokeWidth":2.8,"interpolate":"monotone"},"axis":{"domain":false,"grid":false,"tickColor":"black","tickSize":4.9,"tickWidth":1.1,"labelFont":"DejaVu Sans","labelFontSize":13.9,"labelColor":"black","labelPadding":4.9},"axisX":{"tickCount":5,"labelFlush":false,"labelOverlap":false},"axisY":{"tickCount":2,"format":".1f"},"title":{"font":"DejaVu Sans","fontSize":16,"fontWeight":"normal","color":"black","offset":6,"anchor":"middle"}}}
